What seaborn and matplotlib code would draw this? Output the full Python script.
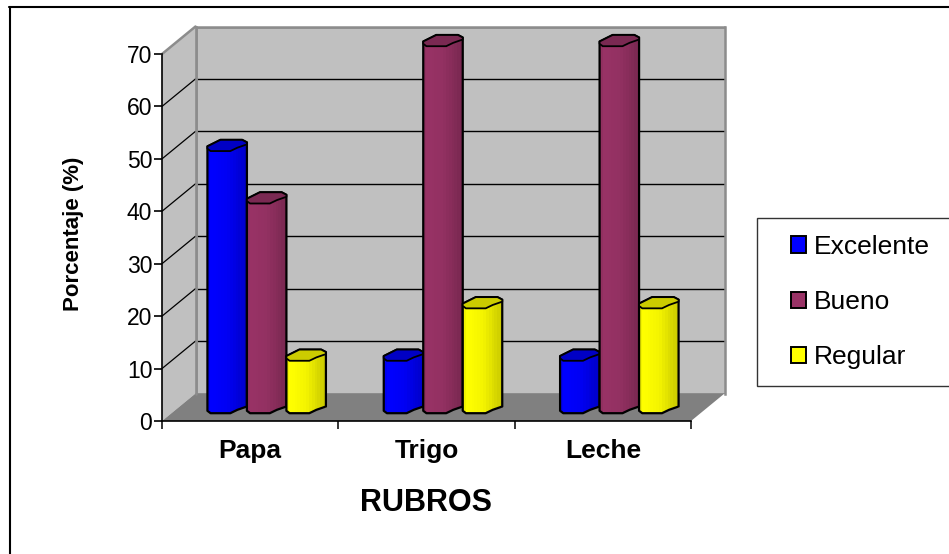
import numpy as np
import pandas as pd
import matplotlib
matplotlib.use("Agg")
import matplotlib.pyplot as plt
from matplotlib.colors import to_rgb
from matplotlib.lines import Line2D
from matplotlib.patches import Polygon, Rectangle
import seaborn as sns

rubros = ["Papa", "Trigo", "Leche"]
series = ["Excelente", "Bueno", "Regular"]
excelente = [50, 10, 10]
bueno = [40, 70, 70]
regular = [10, 20, 20]
y_ticks = [0, 10, 20, 30, 40, 50, 60, 70]

side_colors = {"Excelente": "#0000ff", "Bueno": "#993366", "Regular": "#ffff00"}
cap_colors = {"Excelente": "#0000c4", "Bueno": "#7a2952", "Regular": "#cccc00"}

W, H, DPI = 949, 554, 100
sns.set_theme(style="white")
plt.rcParams["font.family"] = ["Liberation Sans", "DejaVu Sans"]

fig = plt.figure(figsize=(W / DPI, H / DPI), dpi=DPI, facecolor="white")


def axes_px(left, top, right, bottom, **kw):
    """Create axes from pixel edges measured from the top-left corner."""
    return fig.add_axes([left / W, 1 - bottom / H, (right - left) / W, (bottom - top) / H], **kw)


XLIM = (-0.5, 2.5)
YLIM = (0, 70)
FRONT = (162, 54, 691, 421)
DEPTH_X, DEPTH_Y = 33.5, 27.5

# Chart frame: only the top and left edges fall inside the canvas
fig.add_artist(Line2D([9.5 / W, 9.5 / W], [0, 1 - 6.5 / H], color="black", lw=1.5))
fig.add_artist(Line2D([9 / W, 1], [1 - 6.5 / H, 1 - 6.5 / H], color="black", lw=1.5))

# Back wall with its gridlines, pushed up and right by the chart depth
back = axes_px(FRONT[0] + DEPTH_X, FRONT[1] - DEPTH_Y, FRONT[2] + DEPTH_X, FRONT[3] - DEPTH_Y,
               facecolor="#c0c0c0", zorder=0)
back.set_xlim(XLIM)
back.set_ylim(YLIM)
back.set_xticks([])
back.set_yticks(y_ticks)
back.tick_params(left=False, labelleft=False)
back.grid(axis="y", color="black", lw=1.0)
back.spines["bottom"].set_visible(False)
for side in ("top", "left", "right"):
    back.spines[side].set_color("#8c8c8c")
    back.spines[side].set_linewidth(1.8)

# Front plane carries the axes, side wall and floor
front = axes_px(*FRONT, facecolor="none", zorder=1)
front.set_xlim(XLIM)
front.set_ylim(YLIM)
dx = DEPTH_X * (XLIM[1] - XLIM[0]) / (FRONT[2] - FRONT[0])
dy = DEPTH_Y * (YLIM[1] - YLIM[0]) / (FRONT[3] - FRONT[1])

front.add_patch(Polygon([(XLIM[0], 0), (XLIM[0] + dx, dy), (XLIM[0] + dx, 70 + dy), (XLIM[0], 70)],
                        facecolor="#c0c0c0", edgecolor="none", clip_on=False, zorder=1))
front.add_patch(Polygon([(XLIM[0], 0), (XLIM[0] + dx, dy), (XLIM[1] + dx, dy), (XLIM[1], 0)],
                        facecolor="#808080", edgecolor="none", clip_on=False, zorder=1))
for v in y_ticks[1:-1]:
    front.plot([XLIM[0], XLIM[0] + dx], [v, v + dy], color="black", lw=0.9, clip_on=False, zorder=2)
front.plot([XLIM[0], XLIM[0] + dx], [70, 70 + dy], color="#8c8c8c", lw=1.8, clip_on=False, zorder=2)
front.plot([XLIM[0] + dx, XLIM[0] + dx], [0 + dy, 70 + dy], color="#8c8c8c", lw=1.8, clip_on=False, zorder=2)

sns.despine(ax=front, top=True, right=True)
for side in ("left", "bottom"):
    front.spines[side].set_color("black")
    front.spines[side].set_linewidth(1.2)
front.set_yticks(y_ticks)
front.set_xticks([0, 1, 2])
front.set_xticklabels(rubros, fontsize=19, fontweight="bold", color="black")
front.set_xticks([-0.5, 0.5, 1.5, 2.5], minor=True)
front.tick_params(axis="x", which="major", length=0, pad=13)
front.tick_params(axis="x", which="minor", length=6, width=1.1, color="black", bottom=True)
front.tick_params(axis="y", length=6, width=1.2, color="black", labelsize=16.5, labelcolor="black",
                  pad=1, left=True)
front.set_xlabel("RUBROS", fontsize=22, fontweight="bold", color="black", labelpad=18)
front.set_ylabel("Porcentaje (%)", fontsize=16, fontweight="bold", color="black", labelpad=31, y=0.51)

# Bars stand at mid depth on the floor
bars_ax = axes_px(FRONT[0] + 16.5, FRONT[1] - 13.5, FRONT[2] + 16.5, FRONT[3] - 13.5,
                  facecolor="none", zorder=2)
table = pd.DataFrame({
    "rubro": rubros * 3,
    "nivel": [s for s in series for _ in rubros],
    "valor": excelente + bueno + regular,
})
sns.barplot(data=table, x="rubro", y="valor", hue="nivel", hue_order=series, order=rubros,
            palette=side_colors, width=0.672, gap=0, saturation=1, errorbar=None,
            edgecolor="black", linewidth=0, ax=bars_ax)
bars_ax.set_xlim(XLIM)
bars_ax.set_ylim(YLIM)
bars_ax.axis("off")

px_y = (YLIM[1] - YLIM[0]) / (FRONT[3] - FRONT[1])

# Octagonal cross-section of each column, as fractions of its width and pixels of height
back_arc = [(0.00, 1), (0.33, -5.5), (0.88, -5.5), (1.00, -3), (1.00, -1)]
front_arc = [(1.00, -1), (0.76, 2.3), (0.58, 5.7), (0.08, 5.7), (0.00, 3.3)]


def arc_points(arc, x0, w, y):
    return [(x0 + fx * w, y - py * px_y) for fx, py in arc]


for i, (level, container) in enumerate(zip(series, bars_ax.containers)):
    rgb = np.array(to_rgb(side_colors[level]))
    # Stepped shading around the cylinder, brightest on the left third
    shade = np.interp(np.linspace(0, 1, 14), [0, 0.08, 0.5, 0.8, 1], [0.95, 1.0, 0.96, 0.86, 0.8])
    strip = (rgb[None, None, :] * shade[None, :, None])
    z = 3 + 3 * i
    for bar in container.patches:
        x0, w, v = bar.get_x(), bar.get_width(), bar.get_height()
        outline = arc_points(back_arc, x0, w, v)[:-1] + arc_points(front_arc, x0, w, 0)
        body = Polygon(outline, facecolor="none", edgecolor="black", lw=1.6,
                       joinstyle="round", clip_on=False, zorder=z + 1)
        bars_ax.add_patch(body)
        img = bars_ax.imshow(strip, extent=(x0, x0 + w, -2, v + 2), aspect="auto",
                             interpolation="nearest", zorder=z)
        img.set_clip_box(fig.bbox)
        img.set_clip_path(body)
        cap = Polygon(arc_points(back_arc + front_arc, x0, w, v), facecolor=cap_colors[level],
                      edgecolor="black", lw=1.3, joinstyle="round", clip_on=False, zorder=z + 2)
        bars_ax.add_patch(cap)
bars_ax.set_xlim(XLIM)
bars_ax.set_ylim(YLIM)

# Legend panel runs off the right-hand edge of the canvas
fig.add_artist(Rectangle((757 / W, 1 - 386 / H), 200 / W, 168 / H, transform=fig.transFigure,
                         facecolor="white", edgecolor="#333333", lw=1.0))
handles, labels = bars_ax.get_legend_handles_labels()
if bars_ax.get_legend() is not None:
    bars_ax.get_legend().remove()
legend = fig.legend(handles, labels, frameon=False, loc="upper left",
                    bbox_to_anchor=(783 / W, 1 - 227 / H), fontsize=19,
                    handlelength=0.58, handleheight=0.58, handletextpad=0.3,
                    labelspacing=1.18, borderpad=0.3, borderaxespad=0)
for patch in legend.get_patches():
    patch.set_edgecolor("black")
    patch.set_linewidth(1.4)
for text in legend.get_texts():
    text.set_color("black")

fig.savefig("out.png", dpi=DPI, facecolor="white")
